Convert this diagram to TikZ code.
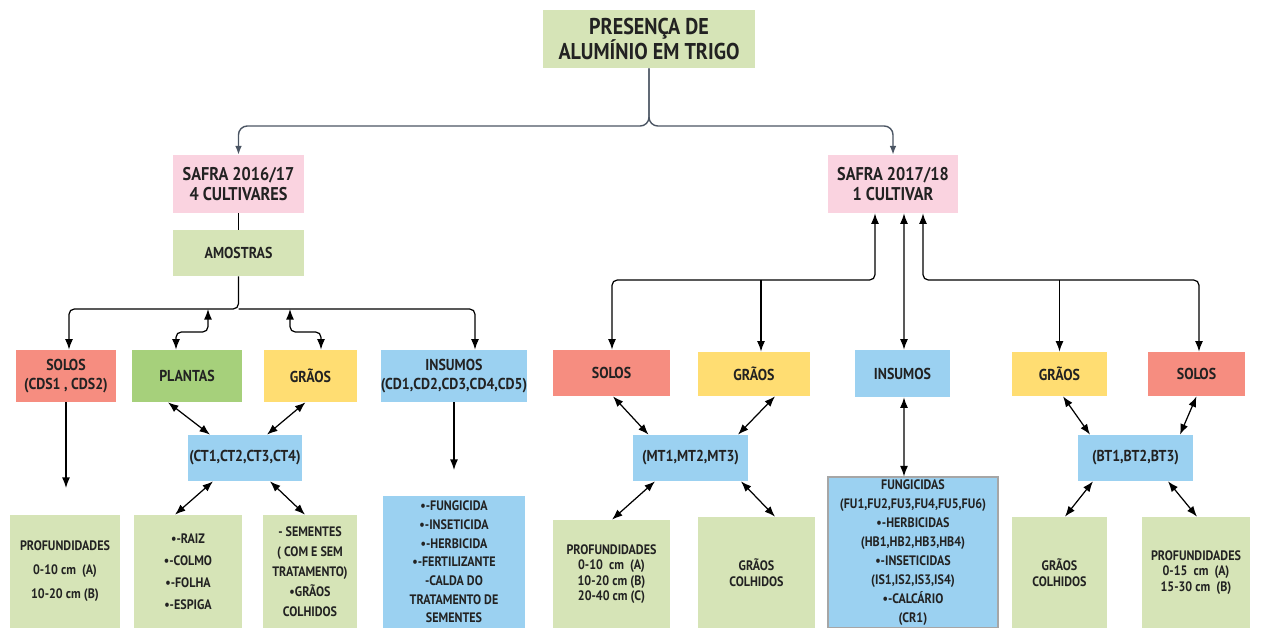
\documentclass[tikz,border=0pt]{standalone}
\usepackage{fontspec}
\setmainfont{PT Sans}[FakeStretch=0.88]
\usetikzlibrary{arrows.meta, positioning, calc}
\definecolor{verdeclaro}{HTML}{D6E4B7}
\definecolor{rosa}{HTML}{FAD3E0}
\definecolor{salmao}{HTML}{F68D80}
\definecolor{verde}{HTML}{A6D07B}
\definecolor{amarelo}{HTML}{FFDD72}
\definecolor{azul}{HTML}{9BD1F1}
\definecolor{texto}{HTML}{222222}
\definecolor{ardosia}{HTML}{4B5563}
\tikzset{
    caixa/.style={rectangle, inner sep=0pt, align=center, text=texto},
    rotulo/.style={font=\bfseries\fontsize{9}{10.8}\selectfont},
    miudo/.style={font=\bfseries\fontsize{7.8}{#1}\selectfont},
    seta/.style={-{Latex[length=6pt,width=4.5pt]}, line width=0.7pt, rounded corners=3pt},
    dupla/.style={{Latex[length=6pt,width=4.5pt]}-{Latex[length=6pt,width=4.5pt]}, line width=0.7pt, rounded corners=3pt},
    topo/.style={-{Latex[length=5pt,width=3.8pt]}, line width=0.8pt, draw=ardosia, rounded corners=5pt}
}
\begin{document}
\begin{tikzpicture}[x=0.02cm, y=-0.02cm]
    \useasboundingbox (0,0) rectangle (1262,628);
    % Topo
    \node[caixa, fill=verdeclaro, minimum width=4.24cm, minimum height=1.16cm, font=\bfseries\fontsize{13}{14.5}\selectfont] (titulo) at (649,39) {PRESENÇA DE\\ALUMÍNIO EM TRIGO};
    \node[caixa, fill=rosa, minimum width=2.62cm, minimum height=1.16cm, font=\bfseries\fontsize{10.5}{11.5}\selectfont] (safraA) at (238.5,184) {SAFRA 2016/17\\4 CULTIVARES};
    \node[caixa, fill=rosa, minimum width=2.6cm, minimum height=1.16cm, font=\bfseries\fontsize{10.5}{11.5}\selectfont] (safraB) at (893,184) {SAFRA 2017/18\\1 CULTIVAR};
    \node[caixa, rotulo, fill=verdeclaro, minimum width=2.62cm, minimum height=0.92cm] (amostras) at (238.5,253) {AMOSTRAS};

    % Safra 2016/17
    \node[caixa, rotulo, fill=salmao, minimum width=2cm, minimum height=1.04cm] (solosA) at (66,376) {SOLOS\\(CDS1 , CDS2)};
    \node[caixa, rotulo, fill=verde, minimum width=2.2cm, minimum height=1.04cm] (plantas) at (187,376) {PLANTAS};
    \node[caixa, rotulo, fill=amarelo, minimum width=1.86cm, minimum height=1.04cm] (graosA) at (310.5,376) {GRÃOS};
    \node[caixa, rotulo, fill=azul, minimum width=2.84cm, minimum height=1.04cm] (insA) at (454,376) {INSUMOS\\(CD1,CD2,CD3,CD4,CD5)};
    \node[caixa, rotulo, fill=azul, minimum width=2.28cm, minimum height=0.92cm] (ct) at (245,458) {(CT1,CT2,CT3,CT4)};
    \node[caixa, miudo=13.6, fill=verdeclaro, minimum width=2.2cm, minimum height=2.26cm] (profA) at (65,571.5) {PROFUNDIDADES\\0-10 cm~~(A)\\10-20 cm (B)};
    \node[caixa, miudo=12.5, fill=verdeclaro, minimum width=2.16cm, minimum height=2.26cm] (raiz) at (188,571.5) {•-RAIZ\\•-COLMO\\•-FOLHA\\•-ESPIGA};
    \node[caixa, miudo=11.3, fill=verdeclaro, minimum width=1.88cm, minimum height=2.26cm] (sementes) at (310,571.5) {- SEMENTES\\( COM E SEM\\TRATAMENTO)\\•GRÃOS\\COLHIDOS};
    \node[caixa, miudo=10.6, fill=azul, minimum width=2.84cm, minimum height=2.64cm] (fung) at (454,562) {•-FUNGICIDA\\•-INSETICIDA\\•-HERBICIDA\\•-FERTILIZANTE\\-CALDA DO\\TRATAMENTO DE\\SEMENTES};

    % Safra 2017/18
    \node[caixa, rotulo, fill=salmao, minimum width=2.34cm, minimum height=0.92cm] (solosB) at (611.5,373) {SOLOS};
    \node[caixa, rotulo, fill=amarelo, minimum width=2.24cm, minimum height=0.88cm] (graosB) at (754,374) {GRÃOS};
    \node[caixa, rotulo, fill=azul, minimum width=1.9cm, minimum height=0.94cm] (insB) at (902.5,373.5) {INSUMOS};
    \node[caixa, rotulo, fill=amarelo, minimum width=1.9cm, minimum height=0.88cm] (graosC) at (1059.5,374) {GRÃOS};
    \node[caixa, rotulo, fill=salmao, minimum width=1.94cm, minimum height=0.88cm] (solosC) at (1196.5,374) {SOLOS};
    \node[caixa, rotulo, fill=azul, minimum width=2.3cm, minimum height=0.92cm] (mt) at (690.5,458) {(MT1,MT2,MT3)};
    \node[caixa, rotulo, fill=azul, minimum width=2.3cm, minimum height=0.92cm] (bt) at (1135.5,458) {(BT1,BT2,BT3)};
    \node[caixa, miudo=8.8, fill=verdeclaro, minimum width=2.34cm, minimum height=2.16cm] (profB) at (611.5,574) {PROFUNDIDADES\\0-10~~cm~~(A)\\10-20 cm (B)\\20-40 cm (C)};
    \node[caixa, miudo=9, fill=verdeclaro, minimum width=2.34cm, minimum height=2.22cm] (colB) at (756.5,572.5) {GRÃOS\\COLHIDOS};
    \node[caixa, miudo=10.8, fill=azul, draw=gray!70, line width=0.6pt, minimum width=3.4cm, minimum height=3.02cm] (fungB) at (913,552.5) {FUNGICIDAS\\(FU1,FU2,FU3,FU4,FU5,FU6)\\•-HERBICIDAS\\(HB1,HB2,HB3,HB4)\\•-INSETICIDAS\\(IS1,IS2,IS3,IS4)\\•-CALCÁRIO\\(CR1)};
    \node[caixa, miudo=9, fill=verdeclaro, minimum width=1.9cm, minimum height=2.22cm] (colC) at (1059.5,572.5) {GRÃOS\\COLHIDOS};
    \node[caixa, miudo=8.8, fill=verdeclaro, minimum width=2.16cm, minimum height=2.22cm] (profC) at (1196,572.5) {PROFUNDIDADES\\0-15~~cm~~(A)\\15-30 cm~~(B)};

    % Ligacoes do topo
    \draw[topo] (titulo.south) -- (649,126) -- (238.5,126) -- (safraA.north);
    \draw[topo] (titulo.south) -- (649,126) -- (893,126) -- (safraB.north);
    \draw[line width=0.7pt] (safraA) -- (amostras);

    % Arvore 2016/17
    \coordinate (ramoA) at (238.5,309);
    \coordinate (jPlantas) at (208,309);
    \coordinate (jGraos) at (290,309);
    \coordinate (fimSolos) at (66,488);
    \coordinate (fimInsumos) at (454,470);
    \draw[seta] (amostras.south) -- (ramoA) -| ($(solosA.north)+(3,0)$);
    \draw[seta] (ramoA) -| ($(insA.north)+(21,0)$);
    \draw[dupla] ($(plantas.north)+(-11,0)$) |- ($(jPlantas)+(0,23)$) -- (jPlantas);
    \draw[dupla] ($(graosA.north)+(10.5,0)$) |- ($(jGraos)+(0,23)$) -- (jGraos);
    \draw[seta] (solosA.south) -- (fimSolos);
    \draw[seta] (insA.south) -- (fimInsumos);
    \draw[dupla] ($(plantas.south)+(-19,0)$) -- ($(ct.north)+(-35,0)$);
    \draw[dupla] ($(graosA.south)+(-5,0)$) -- ($(ct.north)+(22,0)$);
    \draw[dupla] ($(ct.south)+(-32,0)$) -- ($(raiz.north)+(-13,0)$);
    \draw[dupla] ($(ct.south)+(25,0)$) -- ($(sementes.north)+(-5,0)$);

    % Arvore 2017/18
    \coordinate (ramoB) at (761,280);
    \coordinate (ramoC) at (1059.5,280);
    \draw[dupla] ($(safraB.south)+(-18,0)$) |- (ramoB) -| ($(solosB.north)+(0.5,0)$);
    \draw[seta] (ramoB) -- ($(graosB.north)+(7,0)$);
    \draw[dupla] ($(safraB.south)+(11,0)$) -- ($(insB.north)+(1.5,0)$);
    \draw[dupla] ($(safraB.south)+(30,0)$) |- (ramoC) -| ($(solosC.north)+(2.5,0)$);
    \draw[seta] (ramoC) -- (graosC.north);
    \draw[dupla] ($(solosB.south)+(1.5,0)$) -- ($(mt.north)+(-42,0)$);
    \draw[dupla] ($(graosB.south)+(21,0)$) -- ($(mt.north)+(47.5,0)$);
    \draw[dupla] ($(mt.south)+(-35.5,0)$) -- ($(profB.north)+(0.5,0)$);
    \draw[dupla] ($(mt.south)+(50.5,0)$) -- ($(colB.north)+(18.5,0)$);
    \draw[dupla] ($(insB.south)+(1.5,0)$) -- ($(fungB.north)+(-9,0)$);
    \draw[dupla] ($(graosC.south)+(3.5,0)$) -- ($(bt.north)+(-45.5,0)$);
    \draw[dupla] (solosC.south) -- ($(bt.north)+(44.5,0)$);
    \draw[dupla] ($(bt.south)+(-42.5,0)$) -- ($(colC.north)+(5.5,0)$);
    \draw[dupla] ($(bt.south)+(32.5,0)$) -- ($(profC.north)+(1,0)$);
\end{tikzpicture}
\end{document}
